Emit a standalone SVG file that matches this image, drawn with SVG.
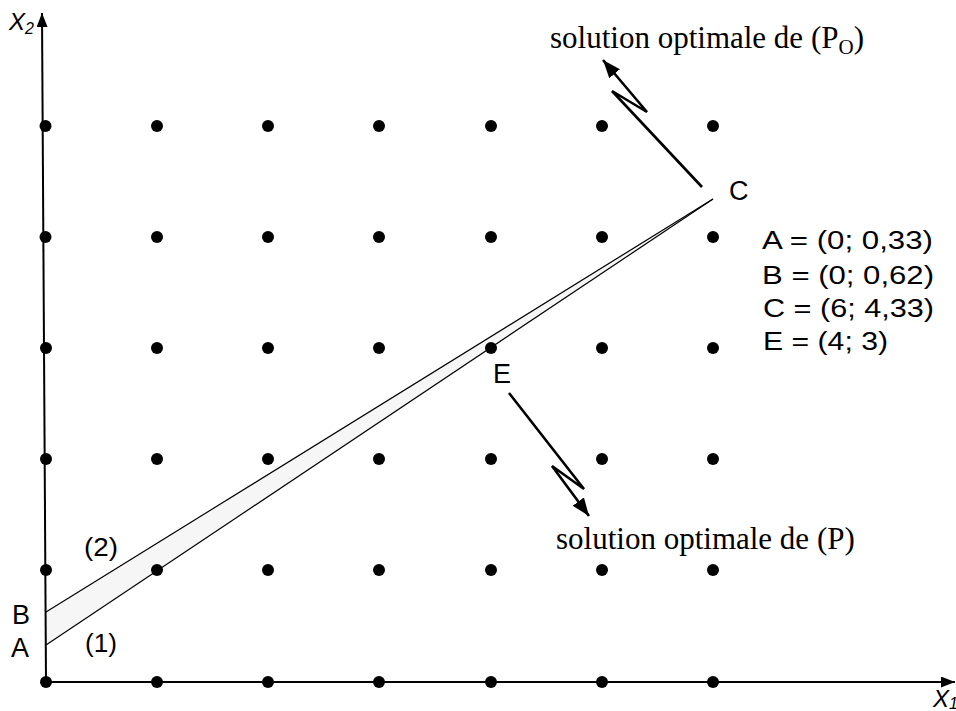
<svg xmlns="http://www.w3.org/2000/svg" width="956" height="711" viewBox="0 0 956 711">
<style>
.dot{fill:#000}
.axis{stroke:#000;stroke-width:2;fill:none}
.bound{stroke:#000;stroke-width:1.2;fill:none}
.arr{stroke:#000;stroke-width:2.6;fill:none;stroke-linejoin:miter}
.sans{font-family:"Liberation Sans","DejaVu Sans",sans-serif;fill:#000}
.serif{font-family:"Liberation Serif","Times New Roman",serif;fill:#000}
.lbl{font-size:26px}
.pt{font-size:27px}
.ax{font-size:24px;font-style:italic}
.sol{font-size:31px}
</style>
<defs>
<marker id="ah" markerUnits="userSpaceOnUse" markerWidth="20" markerHeight="16" refX="18" refY="7" orient="auto">
<path d="M0,0 L18,7 L0,14 Z" fill="#000"/>
</marker>
<marker id="axh" markerUnits="userSpaceOnUse" markerWidth="16" markerHeight="12" refX="14" refY="5.5" orient="auto">
<path d="M0,0 L14,5.5 L0,11 Z" fill="#000"/>
</marker>
</defs>

<g id="band">
<polygon points="46,645 46,612 713,199" fill="#f6f6f6" stroke="none"/>
</g>

<g id="connectors">
<line class="axis" x1="46" y1="682" x2="42" y2="13" marker-end="url(#axh)"/>
<line class="axis" x1="44" y1="682" x2="955" y2="682" marker-end="url(#axh)"/>
<line id="line1" class="bound" x1="46" y1="645" x2="713" y2="199"/>
<line id="line2" class="bound" x1="46" y1="612" x2="713" y2="199"/>
<polyline class="arr" points="702,187 612,91 647,112 603,60" marker-end="url(#ah)"/>
<polyline class="arr" points="509,393 584,489 552,466 589,516" marker-end="url(#ah)"/>
</g>

<g id="grid">
<g id="row1">
<circle class="dot" cx="45.5" cy="126" r="6"/><circle class="dot" cx="157" cy="126" r="6"/><circle class="dot" cx="268" cy="126" r="6"/><circle class="dot" cx="379" cy="126" r="6"/><circle class="dot" cx="491" cy="126" r="6"/><circle class="dot" cx="602" cy="126" r="6"/><circle class="dot" cx="713" cy="126" r="6"/>
</g>
<g id="row2">
<circle class="dot" cx="45.5" cy="237" r="6"/><circle class="dot" cx="157" cy="237" r="6"/><circle class="dot" cx="268" cy="237" r="6"/><circle class="dot" cx="379" cy="237" r="6"/><circle class="dot" cx="491" cy="237" r="6"/><circle class="dot" cx="602" cy="237" r="6"/><circle class="dot" cx="713" cy="237" r="6"/>
</g>
<g id="row3">
<circle class="dot" cx="46" cy="348" r="6"/><circle class="dot" cx="157" cy="348" r="6"/><circle class="dot" cx="268" cy="348" r="6"/><circle class="dot" cx="379" cy="348" r="6"/><circle class="dot" cx="491" cy="348" r="6"/><circle class="dot" cx="602" cy="348" r="6"/><circle class="dot" cx="713" cy="348" r="6"/>
</g>
<g id="row4">
<circle class="dot" cx="46" cy="459" r="6"/><circle class="dot" cx="157" cy="459" r="6"/><circle class="dot" cx="268" cy="459" r="6"/><circle class="dot" cx="379" cy="459" r="6"/><circle class="dot" cx="491" cy="459" r="6"/><circle class="dot" cx="602" cy="459" r="6"/><circle class="dot" cx="713" cy="459" r="6"/>
</g>
<g id="row5">
<circle class="dot" cx="46" cy="570" r="6"/><circle class="dot" cx="157" cy="570" r="6"/><circle class="dot" cx="268" cy="570" r="6"/><circle class="dot" cx="379" cy="570" r="6"/><circle class="dot" cx="491" cy="570" r="6"/><circle class="dot" cx="602" cy="570" r="6"/><circle class="dot" cx="713" cy="570" r="6"/>
</g>
<g id="row6">
<circle class="dot" cx="46" cy="682" r="6"/><circle class="dot" cx="157" cy="682" r="6"/><circle class="dot" cx="268" cy="682" r="6"/><circle class="dot" cx="379" cy="682" r="6"/><circle class="dot" cx="491" cy="682" r="6"/><circle class="dot" cx="602" cy="682" r="6"/><circle class="dot" cx="713" cy="682" r="6"/>
</g>
</g>

<g id="axis-labels">
<text class="sans ax" x="9" y="30">X<tspan font-size="16" dy="4">2</tspan></text>
<text class="sans ax" x="933" y="707">X<tspan font-size="16" dy="2">1</tspan></text>
</g>

<g id="point-labels">
<text class="sans pt" x="11" y="657">A</text>
<text class="sans pt" x="12" y="624">B</text>
<text class="sans pt" x="729" y="200">C</text>
<text class="sans pt" x="493" y="383">E</text>
<text class="sans lbl" x="85" y="652" textLength="32" lengthAdjust="spacingAndGlyphs">(1)</text>
<text class="sans lbl" x="84" y="556" textLength="34" lengthAdjust="spacingAndGlyphs">(2)</text>
</g>

<g id="legend">
<text class="sans lbl" x="762" y="249" textLength="171" lengthAdjust="spacingAndGlyphs">A = (0; 0,33)</text>
<text class="sans lbl" x="762" y="284" textLength="172" lengthAdjust="spacingAndGlyphs">B = (0; 0,62)</text>
<text class="sans lbl" x="763" y="317" textLength="171" lengthAdjust="spacingAndGlyphs">C = (6; 4,33)</text>
<text class="sans lbl" x="763" y="350" textLength="125" lengthAdjust="spacingAndGlyphs">E = (4; 3)</text>
</g>

<g id="annotations">
<text class="serif sol" x="550" y="48">solution optimale de (P<tspan font-size="21" dy="6">O</tspan><tspan dy="-6">)</tspan></text>
<text class="serif sol" x="556" y="549">solution optimale de (P)</text>
</g>
</svg>
